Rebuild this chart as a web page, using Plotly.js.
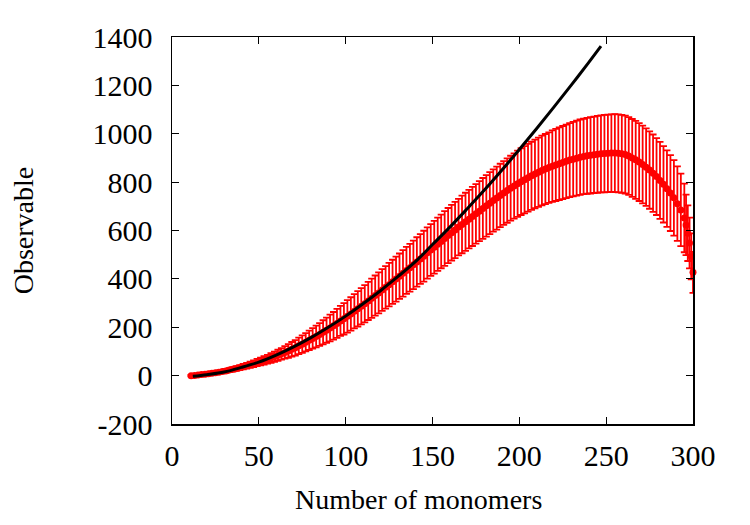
<!DOCTYPE html>
<html>
<head>
<meta charset="utf-8">
<script src="https://cdn.plot.ly/plotly-3.0.1.min.js"></script>
<style>
  html, body { margin: 0; padding: 0; background: #fff; }
  #chart { width: 750px; height: 525px; }
</style>
</head>
<body>
<div id="chart"></div>
<script>
// Simulation: observable vs chain length (mean with error bars)
const simN = [
  11, 13, 15, 17, 19, 21, 23, 25, 27, 29, 31, 33, 35, 37, 39, 41, 43, 45, 47, 49,
  51, 53, 55, 57, 59, 61, 63, 65, 67, 69, 71, 73, 75, 77, 79, 81, 83, 85, 87, 89,
  91, 93, 95, 97, 99, 101, 103, 105, 107, 109, 111, 113, 115, 117, 119, 121, 123, 125, 127, 129,
  131, 133, 135, 137, 139, 141, 143, 145, 147, 149, 151, 153, 155, 157, 159, 161, 163, 165, 167, 169,
  171, 173, 175, 177, 179, 181, 183, 185, 187, 189, 191, 193, 195, 197, 199, 201, 203, 205, 207, 209,
  211, 213, 215, 217, 219, 221, 223, 225, 227, 229, 231, 233, 235, 237, 239, 241, 243, 245, 247, 249,
  251, 253, 255, 257, 259, 261, 263, 265, 267, 269, 271, 273, 275, 277, 279, 281, 283, 285, 287, 289,
  291, 293, 295, 296, 297, 298, 299, 300
];
const simMean = [
  0, 1, 3, 4.5, 6, 8, 10, 12, 14, 17, 19.5, 23, 26, 29.5, 33, 37, 41, 45, 49, 54,
  58, 63, 68, 73, 78, 84, 90, 96, 102, 109, 115, 123, 130, 138, 146, 154, 162, 170, 179, 188,
  197, 206, 216, 226, 235, 245, 255, 266, 276, 287, 297, 309, 320, 331, 342, 354, 365, 376, 388, 399,
  411, 423, 435, 446, 458, 470, 482, 494, 507, 519, 531, 543, 555, 567, 579, 591, 602, 614, 625, 636,
  647, 658, 669, 680, 691, 702, 713, 724, 734, 745, 755, 765, 775, 784, 793, 802, 810, 818, 826, 834,
  841, 848, 854, 860, 866, 871, 876, 881, 886, 891, 895, 899, 903, 906, 909, 911, 913, 915, 917, 918,
  919, 920, 920, 919, 917, 914, 908, 900, 892, 883, 873, 862, 850, 837, 823, 807, 791, 773, 755, 735,
  711, 685, 652, 623, 589, 548, 493, 427
];
const simErr = [
  3, 3, 4, 4, 5, 5, 6, 6, 7, 7, 8, 8, 9, 10, 10, 11, 12, 13, 14, 15,
  16, 17, 18, 20, 21, 23, 24, 26, 28, 30, 32, 34, 36, 38, 40, 42, 45, 47, 50, 52,
  55, 57, 60, 62, 65, 67, 69, 71, 73, 75, 77, 79, 81, 83, 85, 86, 88, 90, 91, 93,
  94, 96, 97, 99, 100, 102, 103, 105, 106, 107, 109, 110, 111, 113, 114, 115, 116, 117, 119, 120,
  121, 122, 123, 124, 126, 127, 128, 129, 130, 131, 132, 133, 134, 135, 137, 138, 139, 140, 141, 142,
  143, 144, 145, 146, 148, 149, 150, 151, 152, 153, 154, 155, 156, 156, 157, 158, 158, 159, 159, 160,
  160, 160, 161, 161, 161, 161, 161, 161, 161, 161, 161, 160, 160, 160, 159, 159, 158, 158, 157, 156,
  154, 150, 142, 125, 115, 105, 95, 85
];

// Model curve
const fitN = [12, 20, 30, 40, 50, 60, 70, 80, 90, 100, 110, 120, 130, 140, 150, 160, 170, 180, 190, 200, 210, 220, 230, 240, 247];
const fitVal = [-3, 4, 15, 34, 56, 85, 119, 157, 200, 246, 297, 351, 409, 470, 542, 614, 690, 768, 850, 935, 1022, 1111, 1202, 1295, 1362];

// Axis tick labels (plain hyphen for the negative value)
const xTicks = [0, 50, 100, 150, 200, 250, 300];
const yTicks = [-200, 0, 200, 400, 600, 800, 1000, 1200, 1400];
const yTickText = ['-200', '0', '200', '400', '600', '800', '1000', '1200', '1400'];

const font = 'Liberation Serif, Times New Roman, serif';

const traces = [
  {
    x: simN, y: simMean,
    type: 'scatter', mode: 'markers',
    marker: {color: 'rgb(255,0,0)', size: 7},
    error_y: {type: 'data', array: simErr, visible: true, color: 'rgb(255,0,0)', thickness: 1.8, width: 3.5},
    cliponaxis: false,
    showlegend: false
  },
  {
    x: fitN, y: fitVal,
    type: 'scatter', mode: 'lines',
    line: {color: '#000', width: 3, shape: 'spline', smoothing: 1},
    showlegend: false
  }
];

const axisCommon = {
  showgrid: false, zeroline: false,
  showline: true, linecolor: '#000', linewidth: 1.5, mirror: 'ticks',
  ticks: 'inside', ticklen: 7, tickcolor: '#000', tickwidth: 1,
  tickfont: {family: font, size: 30, color: '#000'}
};

const layout = {
  width: 750, height: 525,
  margin: {l: 172, r: 57, t: 37, b: 101},
  paper_bgcolor: '#fff', plot_bgcolor: '#fff',
  font: {family: font, color: '#000'},
  xaxis: Object.assign({}, axisCommon, {
    range: [0, 300], tickmode: 'array', tickvals: xTicks,
    ticklabelstandoff: 4
  }),
  yaxis: Object.assign({}, axisCommon, {
    range: [-200, 1400], tickmode: 'array', tickvals: yTicks, ticktext: yTickText,
    ticklabelstandoff: 12,
    title: {text: 'Observable', font: {family: font, size: 28, color: '#000'}, standoff: 50}
  }),
  annotations: [{
    // x-axis label, set slightly left of the plot centre
    text: 'Number of monomers',
    xref: 'paper', yref: 'paper',
    x: 0.4726, y: -0.196,
    xanchor: 'center', yanchor: 'middle',
    showarrow: false,
    font: {family: font, size: 28, color: '#000'}
  }]
};

Plotly.newPlot('chart', traces, layout, {displayModeBar: false, staticPlot: true});
</script>
</body>
</html>
